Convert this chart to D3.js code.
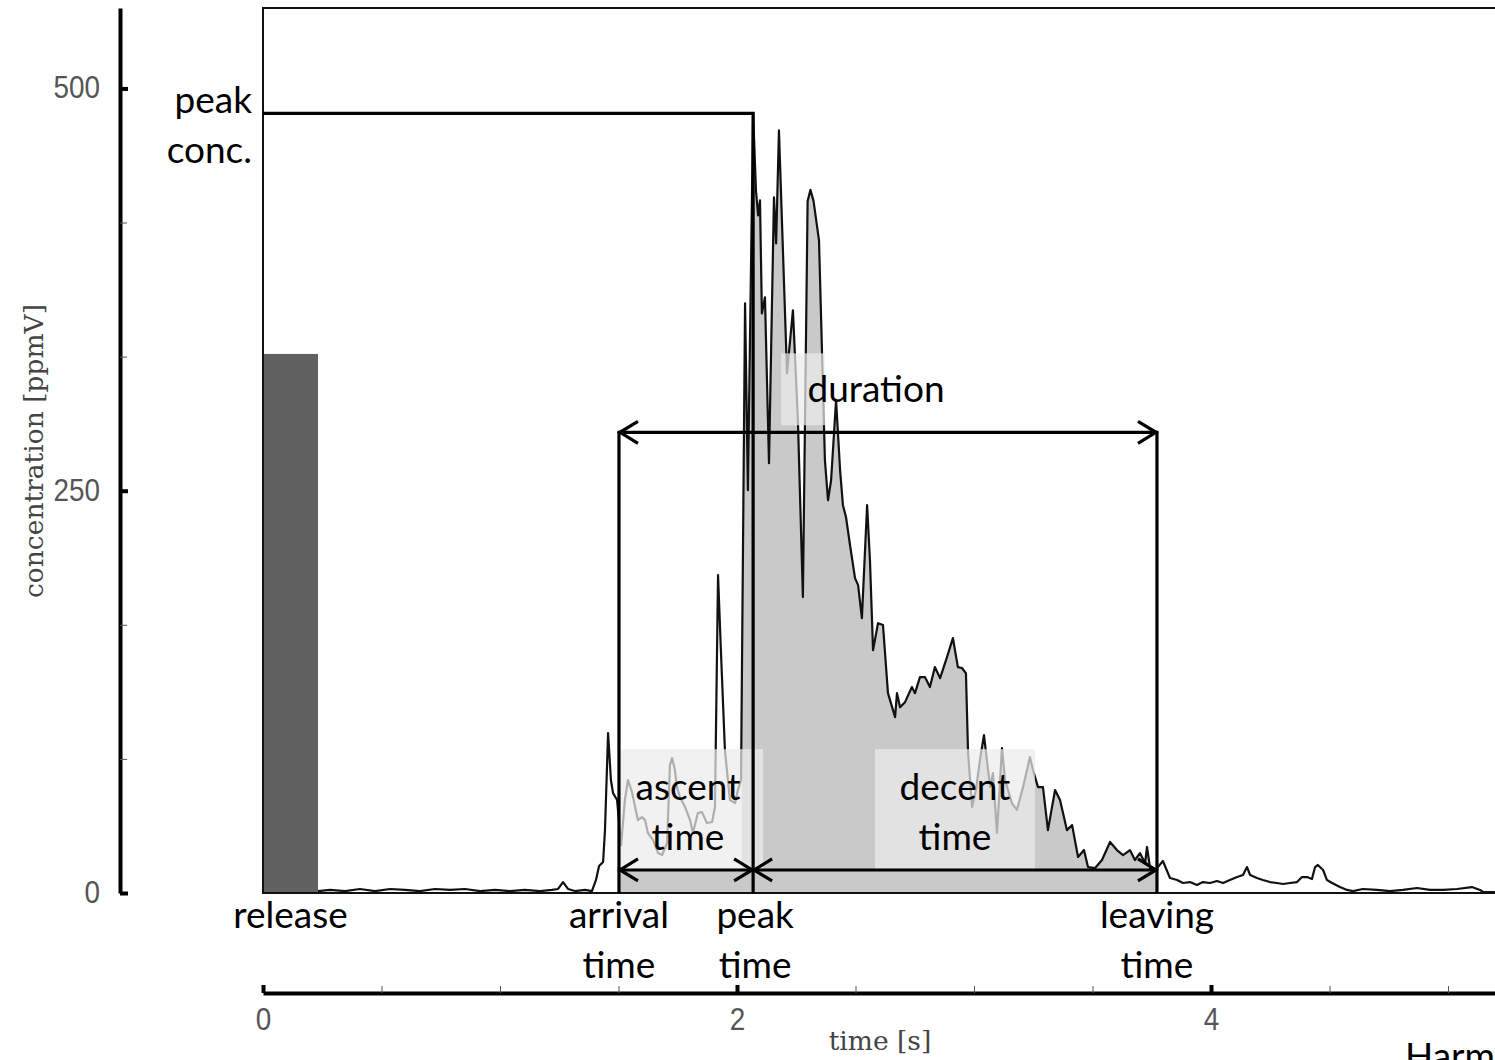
<!DOCTYPE html>
<html><head><meta charset="utf-8">
<script src="https://cdn.jsdelivr.net/npm/d3@7"></script>
<style>body{margin:0;background:#fff;overflow:hidden}</style>
</head><body>
<svg id="chart" width="1495" height="1060"></svg>
<script>
// ---------- DATA (time in s, concentration in ppmV) ----------
const baseT = [0.232,0.283,0.346,0.409,0.473,0.536,0.599,0.662,0.726,0.789,0.852,0.916,0.979,1.042,1.105,1.169,1.219,1.245,1.266,1.287,1.316,1.359,1.388];
const baseC = [1.2,1.9,1.2,2.5,1.2,2.5,1.9,1.2,2.5,1.9,2.5,1.2,1.9,1.2,1.9,1.2,1.9,2.5,6.8,2.5,1.2,1.9,1.2];

const ascentT = [1.405,1.418,1.435,1.443,1.456,1.468,1.477,1.494,1.511,1.527,1.540,1.557,1.570,1.582,1.599,1.612,1.624,1.646,1.667,1.684,1.705,1.717,1.726,1.738,1.747,1.759,1.781,1.802,1.814,1.835,1.852,1.873,1.895,1.907,1.920,1.932,1.949,1.970,1.992,2.004,2.017];
const ascentC = [8.1,16.8,19.3,39.1,99.4,70.2,62.1,57.8,29.8,57.8,70.2,62.7,53.4,45.3,47.2,45.3,37.3,32.9,24.8,23.6,31.1,79.5,83.9,76.4,65.8,59.6,53.4,45.3,37.3,49.7,50.3,43.5,44.1,53.4,197.5,150.9,88.8,57.8,55.9,64.0,70.2];

const coreT = [2.034,2.046,2.068,2.080,2.089,2.097,2.105,2.118,2.135,2.156,2.165,2.177,2.211,2.236,2.257,2.278,2.298,2.310,2.323,2.346,2.371,2.384,2.397,2.418,2.435,2.447,2.460,2.477,2.498,2.511,2.527,2.549,2.561,2.574,2.595,2.616,2.637,2.667,2.675,2.688,2.709,2.738,2.751,2.772,2.793,2.814,2.835,2.857,2.886,2.911,2.932,2.949,2.966];
const coreC = [366.5,250.3,484.5,436.6,421.1,430.4,360.2,370.2,267.1,432.3,403.7,473.9,323.0,362.1,293.8,183.9,430.0,437.0,430.0,405.6,268.9,244.1,256.5,306.2,262.7,241.0,233.5,216.1,195.7,191.3,170.8,241.0,206.8,150.9,167.7,166.5,124.2,109.3,124.2,115.5,118.6,128.0,124.2,134.2,134.2,128.0,140.4,133.5,146.6,158.4,140.4,139.8,136.6];

const decayT = [2.975,2.992,3.008,3.025,3.042,3.068,3.080,3.097,3.118,3.131,3.160,3.181,3.207,3.236,3.249,3.270,3.291,3.312,3.342,3.363,3.392,3.414,3.439,3.464,3.481,3.511,3.540,3.574,3.603,3.629,3.658,3.679,3.700,3.722,3.730,3.743,3.755,3.776];
const decayC = [87.0,53.4,64.0,82.6,98.1,65.8,74.5,37.3,90.1,70.2,55.9,51.6,65.8,84.5,76.4,65.8,65.8,39.1,64.0,57.8,39.1,42.2,22.4,26.7,16.1,15.5,20.5,31.7,26.7,23.6,26.7,20.5,24.8,18.6,28.6,15.5,13.0,16.1];

const tailT = [3.797,3.827,3.857,3.882,3.911,3.941,3.966,3.996,4.025,4.051,4.080,4.110,4.135,4.152,4.165,4.194,4.219,4.249,4.278,4.304,4.333,4.363,4.384,4.405,4.426,4.439,4.451,4.473,4.489,4.511,4.544,4.574,4.599,4.641,4.700,4.755,4.810,4.869,4.924,4.979,5.038,5.101,5.135,5.148,5.198];
const tailC = [19.9,9.3,8.1,6.2,6.8,5.0,6.8,6.2,7.5,6.2,8.1,9.9,11.2,16.1,11.2,9.3,8.1,6.8,6.2,5.6,6.2,6.8,9.9,9.9,8.7,16.1,17.4,14.3,8.1,6.2,3.7,1.9,1.2,2.5,1.9,1.2,1.9,3.1,1.9,1.9,2.5,3.7,1.9,0.6,0.6];

// release pulse and characteristic times
const releaseStart = 0, releaseEnd = 0.232, releaseConc = 335;
const arrivalTime = 1.502, peakTime = 2.068, leavingTime = 3.772, peakConc = 484.5;
const fillStartTime = 2.02;
const durationLevel = 286.3, stepLevel = 14.3;

// tick labels
const yMajorTicks = [0, 250, 500];
const xMajorTicks = [0, 2, 4];
const xMinorTicks = [0.5, 1, 1.5, 2.5, 3, 3.5, 4.5, 5];
const yMinorTicks = [250/3, 500/3, 1000/3, 1250/3];

// label boxes (time range, concentration range)
const boxes = [
  {t0: 1.502, t1: 2.110, c0: 14.3, c1: 89.4},
  {t0: 2.582, t1: 3.257, c0: 14.3, c1: 89.4},
  {t0: 2.186, t1: 2.371, c0: 290.7, c1: 335.4}
];

// ---------- CHART ----------
const allT = [...baseT, ...ascentT, ...coreT, ...decayT, ...tailT];
const allC = [...baseC, ...ascentC, ...coreC, ...decayC, ...tailC];
const series = allT.map((t, i) => ({t, c: allC[i]}));

const svg = d3.select('#chart');
const x = d3.scaleLinear().domain([0, 5.2]).range([263, 263 + 5.2 * 237]);
const y = d3.scaleLinear().domain([0, 550]).range([893, 8]);

const annFont = "Lato, 'Open Sans', sans-serif";
const serifFont = "'DejaVu Serif', serif";
const numFont = "'Liberation Sans', sans-serif";

// clip for filled region
const defs = svg.append('defs');
defs.append('clipPath').attr('id', 'fillClip').append('rect')
  .attr('x', x(fillStartTime)).attr('y', 0)
  .attr('width', x(leavingTime) - x(fillStartTime)).attr('height', 1060);

// filled area under curve
const area = d3.area().x(d => x(d.t)).y0(y(0)).y1(d => y(d.c));
svg.append('path').datum(series).attr('d', area)
  .attr('fill', '#c9c9c9').attr('clip-path', 'url(#fillClip)');
// band under step arrows
svg.append('rect')
  .attr('x', x(arrivalTime)).attr('y', y(stepLevel))
  .attr('width', x(leavingTime) - x(arrivalTime)).attr('height', y(0) - y(stepLevel))
  .attr('fill', '#c9c9c9');

// curve
const line = d3.line().x(d => x(d.t)).y(d => y(d.c));
svg.append('path').datum(series).attr('d', line)
  .attr('fill', 'none').attr('stroke', '#111').attr('stroke-width', 2.2)
  .attr('stroke-linejoin', 'round');

// release bar
svg.append('rect')
  .attr('x', x(releaseStart)).attr('y', y(releaseConc))
  .attr('width', x(releaseEnd) - x(releaseStart)).attr('height', y(0) - y(releaseConc))
  .attr('fill', '#616161');

// translucent label boxes
svg.selectAll('rect.lbox').data(boxes).join('rect').attr('class', 'lbox')
  .attr('x', d => x(d.t0)).attr('y', d => y(d.c1))
  .attr('width', d => x(d.t1) - x(d.t0)).attr('height', d => y(d.c0) - y(d.c1))
  .attr('fill', '#ececec').attr('opacity', 0.72);

// plot frame
svg.append('rect').attr('x', x(0)).attr('y', y(550))
  .attr('width', 1260).attr('height', y(0) - y(550))
  .attr('fill', 'none').attr('stroke', '#111').attr('stroke-width', 2);

// annotation lines
const ann = svg.append('g').attr('stroke', '#000').attr('stroke-width', 3.2).attr('fill', 'none');
ann.append('path').attr('d', `M${x(0)},${y(peakConc)}H${x(peakTime)}V${y(0)}`);
ann.append('line').attr('x1', x(arrivalTime)).attr('x2', x(arrivalTime)).attr('y1', y(durationLevel) - 1.5).attr('y2', y(0));
ann.append('line').attr('x1', x(leavingTime)).attr('x2', x(leavingTime)).attr('y1', y(durationLevel) - 1.5).attr('y2', y(0));

function arrow(t0, t1, c) {
  const x0 = x(t0), x1 = x(t1), yy = y(c);
  ann.append('line').attr('x1', x0).attr('x2', x1).attr('y1', yy).attr('y2', yy);
  ann.append('path').attr('d', `M${x0 + 19},${yy - 11}L${x0 + 1},${yy}L${x0 + 19},${yy + 11}`);
  ann.append('path').attr('d', `M${x1 - 19},${yy - 11}L${x1 - 1},${yy}L${x1 - 19},${yy + 11}`);
}
arrow(arrivalTime, leavingTime, durationLevel);
arrow(arrivalTime, peakTime, stepLevel);
arrow(peakTime, leavingTime, stepLevel);

// ---------- AXES ----------
function styleNums(sel) {
  sel.attr('font-family', numFont).attr('font-size', 31).attr('fill', '#555')
    .attr('font-weight', 300)
    .attr('textLength', function () { return this.textContent.length * 15.5; })
    .attr('lengthAdjust', 'spacingAndGlyphs');
}
const yAxis = d3.axisLeft(y).tickValues(yMajorTicks).tickSizeInner(-8).tickSizeOuter(0).tickPadding(20).tickFormat(d3.format('d'));
const gy = svg.append('g').attr('transform', 'translate(120,0)').call(yAxis);
gy.select('.domain').attr('stroke', '#000').attr('stroke-width', 4);
gy.selectAll('.tick line').attr('stroke', '#000').attr('stroke-width', 4);
gy.selectAll('.tick text').call(styleNums).attr('dy', '0.3em');
const yMinor = d3.axisLeft(y).tickValues(yMinorTicks).tickSizeInner(-7).tickSizeOuter(0).tickFormat('');
const gym = svg.append('g').attr('transform', 'translate(120,0)').call(yMinor);
gym.select('.domain').remove();
gym.selectAll('.tick line').attr('stroke', '#555').attr('stroke-width', 1);

const xAxis = d3.axisBottom(x).tickValues(xMajorTicks).tickSizeInner(-8).tickSizeOuter(0).tickPadding(15).tickFormat(d3.format('d'));
const gx = svg.append('g').attr('transform', 'translate(0,993)').call(xAxis);
gx.select('.domain').attr('stroke', '#000').attr('stroke-width', 4);
gx.selectAll('.tick line').attr('stroke', '#000').attr('stroke-width', 4);
gx.selectAll('.tick text').call(styleNums);
const xMinor = d3.axisBottom(x).tickValues(xMinorTicks).tickSizeInner(-7).tickSizeOuter(0).tickFormat('');
const gxm = svg.append('g').attr('transform', 'translate(0,993)').call(xMinor);
gxm.select('.domain').remove();
gxm.selectAll('.tick line').attr('stroke', '#555').attr('stroke-width', 1);

// axis titles
svg.append('text').attr('transform', 'translate(43,451) rotate(-90)')
  .attr('text-anchor', 'middle').attr('font-family', serifFont).attr('font-size', 26.5)
  .attr('fill', '#444').text('concentration [ppmV]');
svg.append('text').attr('x', 880).attr('y', 1050)
  .attr('text-anchor', 'middle').attr('font-family', serifFont).attr('font-size', 26.5)
  .attr('fill', '#444').text('time [s]');

// ---------- ANNOTATION TEXT ----------
function label(lines, cx, baseline, anchor = 'middle') {
  const t = svg.append('text').attr('font-family', annFont).attr('font-size', 37)
    .attr('fill', '#000').attr('text-anchor', anchor);
  lines.forEach((s, i) => t.append('tspan').attr('x', cx).attr('y', baseline + i * 50).text(s));
}
label(['peak', 'conc.'], x(0) - 11, y(peakConc), 'end');
label(['release'], (x(releaseStart) + x(releaseEnd)) / 2, 928);
label(['arrival', 'time'], x(arrivalTime), 928);
label(['peak', 'time'], x(peakTime) + 2, 928);
label(['leaving', 'time'], x(leavingTime), 928);
label(['duration'], 876, 402);
label(['ascent', 'time'], 688, 800);
label(['decent', 'time'], 955, 800);
label(['Harm'], 1405, 1069, 'start');
</script>
</body></html>
